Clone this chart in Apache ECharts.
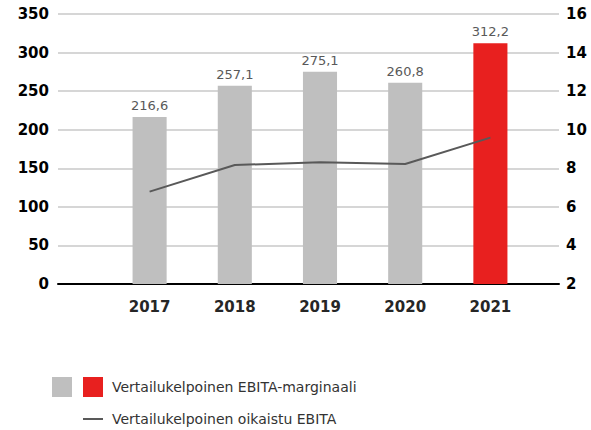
<!DOCTYPE html>
<html>
<head>
<meta charset="utf-8">
<script src="https://cdn.jsdelivr.net/npm/echarts@6/dist/echarts.min.js"></script>
<style>
    html, body { margin: 0; padding: 0; background: #fff; }
    #chart { width: 591px; height: 430px; }
</style>
</head>
<body>
<div id="chart"></div>
<script>
    var years = ["2017", "2018", "2019", "2020", "2021"];
    var barGray = [216.6, 257.1, 275.1, 260.8, "-"];
    var barRed = ["-", "-", "-", "-", 312.2];
    var lineValues = [6.79, 8.17, 8.31, 8.22, 9.59];

    var barName = "Vertailukelpoinen EBITA-marginaali";
    var grayName = "EBITA-marginaali 2017–2020";
    var lineName = "Vertailukelpoinen oikaistu EBITA";

    var font = "DejaVu Sans";

    // pilkku desimaalierottimena
    function fiNumber(v) {
        return String(v.toFixed(1)).replace(".", ",");
    }

    var barLabel = {
        show: true,
        position: "top",
        distance: 5,
        color: "#595959",
        fontFamily: font,
        fontSize: 13,
        formatter: function (p) {
            return fiNumber(p.value);
        }
    };

    var myChart = echarts.init(document.getElementById("chart"), null, {renderer: "svg"});
    var option = {
        animation: false,
        textStyle: {fontFamily: font},
        grid: [
            {left: 58, right: 32, top: 14, bottom: 146},
            {left: 107, right: 58, top: 14, bottom: 146}
        ],
        legend: [
            {
                left: 52, top: 377, padding: 0,
                itemWidth: 20, itemHeight: 20, itemGap: 11,
                icon: "rect",
                data: [grayName, barName],
                formatter: function (name) {
                    return name === grayName ? "" : name;
                },
                textStyle: {color: "#333", fontSize: 14, fontFamily: font, padding: [0, 0, 0, 4]}
            },
            {
                left: 83, top: 412, padding: 0,
                itemWidth: 20, itemHeight: 16,
                data: [{name: lineName, icon: "path://M0,7L20,7L20,9L0,9Z"}],
                textStyle: {color: "#333", fontSize: 14, fontFamily: font, padding: [0, 0, 0, 4]}
            }
        ],
        xAxis: [
            {
                type: "value", gridIndex: 0, min: 0, max: 1,
                axisLabel: {show: false}, axisTick: {show: false}, splitLine: {show: false},
                axisLine: {show: true, lineStyle: {color: "#000", width: 2}}
            },
            {
                type: "category", gridIndex: 1, data: years,
                axisLine: {show: false}, axisTick: {show: false},
                axisLabel: {color: "#262626", fontWeight: "bold", fontSize: 15, fontFamily: font, margin: 15}
            }
        ],
        yAxis: [
            {
                type: "value", gridIndex: 0, position: "left", min: 0, max: 350, interval: 50,
                axisLine: {show: false}, axisTick: {show: false},
                axisLabel: {color: "#000", fontWeight: "bold", fontSize: 15, fontFamily: font, margin: 9},
                splitLine: {lineStyle: {color: "#c8c8c8", width: 1.5}}
            },
            {
                type: "value", gridIndex: 0, position: "right", min: 2, max: 16, interval: 2,
                axisLine: {show: false}, axisTick: {show: false},
                axisLabel: {color: "#000", fontWeight: "bold", fontSize: 15, fontFamily: font, margin: 7},
                splitLine: {show: false}
            },
            {type: "value", gridIndex: 1, position: "left", min: 0, max: 350, show: false},
            {type: "value", gridIndex: 1, position: "right", min: 2, max: 16, show: false}
        ],
        series: [
            {
                name: grayName, type: "bar", xAxisIndex: 1, yAxisIndex: 2,
                stack: "bars", barWidth: "40%", data: barGray,
                itemStyle: {color: "#bfbfbf"}, label: barLabel
            },
            {
                name: barName, type: "bar", xAxisIndex: 1, yAxisIndex: 2,
                stack: "bars", barWidth: "40%", data: barRed,
                itemStyle: {color: "#e8201f"}, label: barLabel
            },
            {
                name: lineName, type: "line", xAxisIndex: 1, yAxisIndex: 3,
                data: lineValues, symbol: "none",
                lineStyle: {color: "#595959", width: 2},
                itemStyle: {color: "#595959"}
            }
        ]
    };
    myChart.setOption(option);
</script>
</body>
</html>
